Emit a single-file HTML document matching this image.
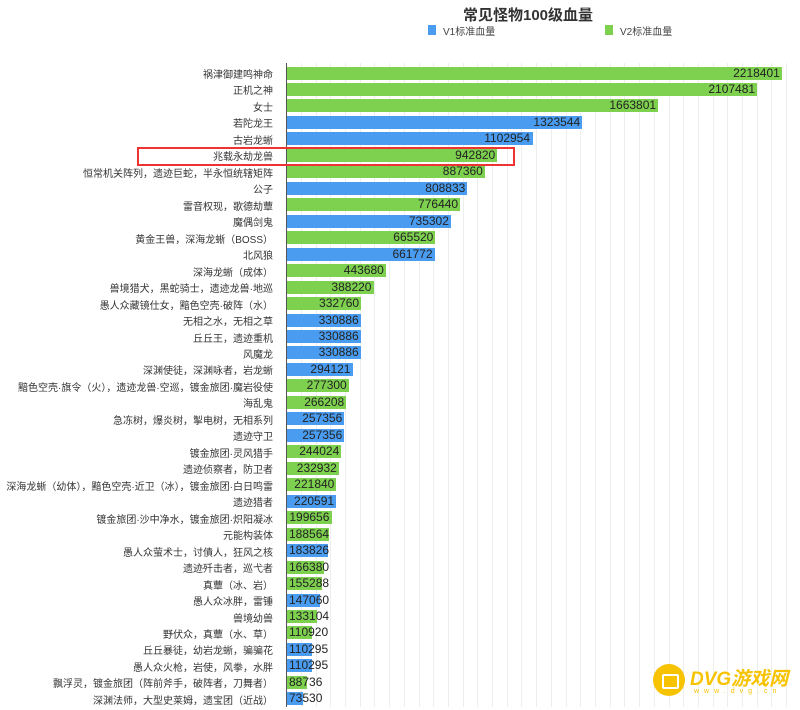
<!DOCTYPE html>
<html><head><meta charset="utf-8">
<style>
body{margin:0;width:800px;height:707px;background:#fff;position:relative;overflow:hidden;font-family:"Liberation Sans","Noto Sans CJK SC",sans-serif;}
.a{position:absolute;white-space:nowrap;}
.lab{font-size:10px;color:#333;text-align:right;width:270px;left:3px;line-height:16px;}
.bar{height:13px;left:287px;}
.val{font-size:12px;color:#222;line-height:13px;}
.g{background:#7ed04f;}
.b{background:#4a9cf0;}
.grid{top:63px;height:644px;width:1px;background:#eee;}
</style></head><body>
<div class="a" style="left:0;width:1056px;top:4px;text-align:center;font-size:15px;font-weight:bold;color:#333;">常见怪物100级血量</div>
<div class="a b" style="left:428px;top:25px;width:8px;height:10px;"></div>
<div class="a" style="left:443px;top:23px;font-size:10px;color:#444;">V1标准血量</div>
<div class="a g" style="left:605px;top:25px;width:8px;height:10px;"></div>
<div class="a" style="left:620px;top:23px;font-size:10px;color:#444;">V2标准血量</div>
<div id="c"></div>
<div class="a" style="left:286px;top:63px;width:1px;height:644px;background:#555;"></div>
<div class="a" style="left:137px;top:147px;width:374px;height:15px;border:2px solid #e33;"></div>
<div class="a" style="left:653px;top:664px;width:32px;height:32px;border-radius:50%;background:#f7c300;"></div>
<div class="a" style="left:662px;top:674px;width:13px;height:11px;border:2px solid #fff;border-radius:2px;"></div>
<div class="a" style="left:690px;top:664px;font-size:19px;font-weight:bold;font-style:italic;color:#f7c300;">DVG游戏网</div>
<div class="a" style="left:694px;top:688px;font-size:7px;letter-spacing:5px;color:#f7c300;">www.dvg.cn</div>
<script>
var d=[["祸津御建鸣神命",2218401,"g"],["正机之神",2107481,"g"],["女士",1663801,"g"],["若陀龙王",1323544,"b"],["古岩龙蜥",1102954,"b"],["兆载永劫龙兽",942820,"g"],["恒常机关阵列，遗迹巨蛇，半永恒统辖矩阵",887360,"g"],["公子",808833,"b"],["雷音权现，歌德劫蕈",776440,"g"],["魔偶剑鬼",735302,"b"],["黄金王兽，深海龙蜥（BOSS）",665520,"g"],["北风狼",661772,"b"],["深海龙蜥（成体）",443680,"g"],["兽境猎犬，黑蛇骑士，遗迹龙兽·地巡",388220,"g"],["愚人众藏镜仕女，黯色空壳·破阵（水）",332760,"g"],["无相之水，无相之草",330886,"b"],["丘丘王，遗迹重机",330886,"b"],["风魔龙",330886,"b"],["深渊使徒，深渊咏者，岩龙蜥",294121,"b"],["黯色空壳·旗令（火），遗迹龙兽·空巡，镀金旅团·魔岩役使",277300,"g"],["海乱鬼",266208,"g"],["急冻树，爆炎树，掣电树，无相系列",257356,"b"],["遗迹守卫",257356,"b"],["镀金旅团·灵风猎手",244024,"g"],["遗迹侦察者，防卫者",232932,"g"],["深海龙蜥（幼体），黯色空壳·近卫（冰），镀金旅团·白日鸣雷",221840,"g"],["遗迹猎者",220591,"b"],["镀金旅团·沙中净水，镀金旅团·炽阳凝冰",199656,"g"],["元能构装体",188564,"g"],["愚人众萤术士，讨債人，狂风之核",183826,"b"],["遗迹歼击者，巡弋者",166380,"g"],["真蕈（冰、岩）",155288,"g"],["愚人众冰胖，雷锤",147060,"b"],["兽境幼兽",133104,"g"],["野伏众，真蕈（水、草）",110920,"g"],["丘丘暴徒，幼岩龙蜥，骗骗花",110295,"b"],["愚人众火枪，岩使，风拳，水胖",110295,"b"],["飘浮灵，镀金旅团（阵前斧手，破阵者，刀舞者）",88736,"g"],["深渊法师，大型史莱姆，遗宝团（近战）",73530,"b"]];
var h="";
for(var x=301;x<790;x+=14.7)h+='<div class="a grid" style="left:'+Math.round(x)+'px"></div>';
var s=495/2218401;
d.forEach(function(r,i){var cy=73+i*16.47;var w=r[1]*s;
h+='<div class="a lab" style="top:'+(cy-5)+'px">'+r[0]+'</div>';
h+='<div class="a bar '+r[2]+'" style="top:'+(cy-6.5)+'px;width:'+w+'px"></div>';
var tw=String(r[1]).length*6.7;var l=Math.max(289,287+w-2-tw);
h+='<div class="a val" style="top:'+(cy-6.5)+'px;left:'+l+'px">'+r[1]+'</div>';});
document.getElementById("c").innerHTML=h;
</script>
</body></html>
